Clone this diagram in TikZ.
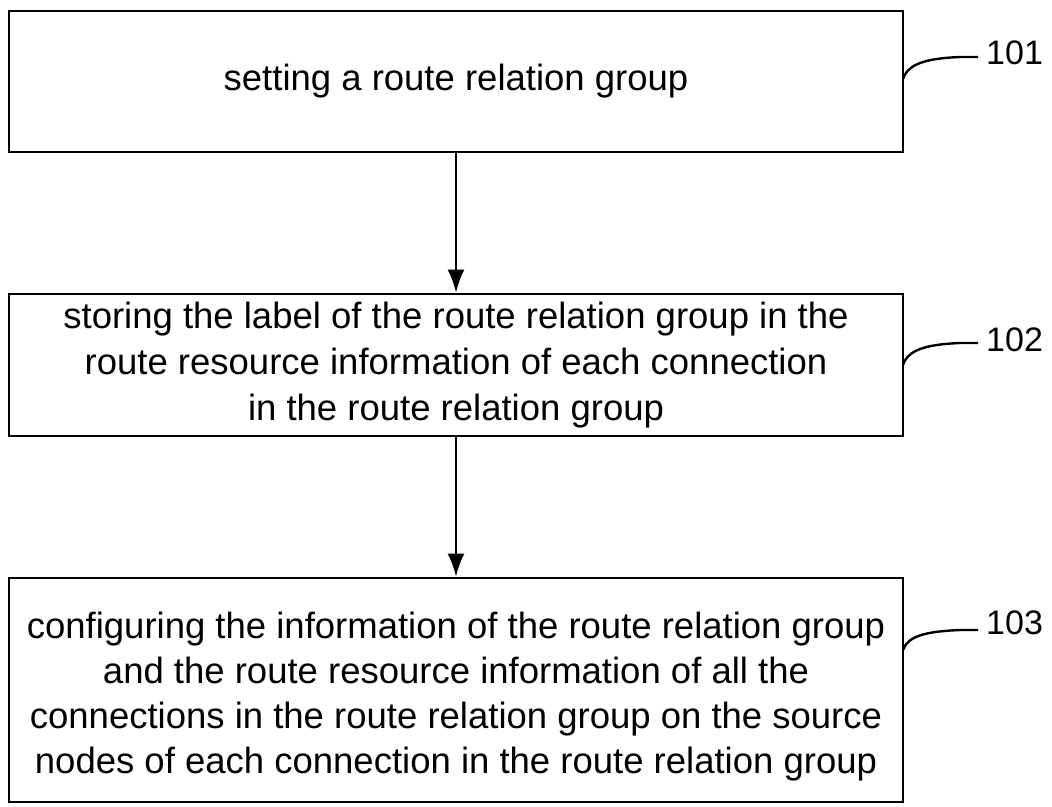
\documentclass[tikz,border=0pt]{standalone}
\usepackage{fontspec}
\setmainfont{Liberation Sans}
\usetikzlibrary{arrows.meta}
\begin{document}
\begin{tikzpicture}[x=1pt,y=-1pt,
  stepbox/.style={draw=black, line width=2.8pt, minimum width=894pt, align=center, inner sep=0pt,
    font=\fontsize{36.5}{46}\selectfont},
  steptext/.style={align=center, inner sep=0pt, font=\fontsize{36.5}{45}\selectfont},
  flow/.style={line width=2.2pt, -{Latex[length=23pt,width=17pt]}},
  leader/.style={line width=2.4pt},
  reflabel/.style={anchor=west, inner sep=0pt, font=\fontsize{34}{40}\selectfont}]
\useasboundingbox (0,0) rectangle (1052,806);
\node[stepbox, minimum height=141pt] (b1) at (456,81.5) {setting a route relation group};
\node[stepbox, minimum height=142pt] (b2) at (456,365) {storing the label of the route relation group in the\\route resource information of each connection\\in the route relation group};
\node[stepbox, minimum height=224pt] (b3) at (456,690) {};
\node[steptext] (t3) at (456,697) {configuring the information of the route relation group\\and the route resource information of all the\\connections in the route relation group on the source\\nodes of each connection in the route relation group};
\draw[flow] (b1.south) -- (b2.north);
\draw[flow] (b2.south) -- (b3.north);
\node[reflabel] (l1) at (986,53) {101};
\node[reflabel] (l2) at (986,340) {102};
\node[reflabel] (l3) at (986,623) {103};
\coordinate (s1) at (903,79);
\coordinate (s2) at (903,365);
\coordinate (s3) at (903,650);
\coordinate (e1) at ([xshift=-8pt]l1.west |- 0,57);
\coordinate (e2) at ([xshift=-8pt]l2.west |- 0,343);
\coordinate (e3) at ([xshift=-8pt]l3.west |- 0,630);
\draw[leader] (s1) .. controls (908,64) and (925,58.5) .. (960,57) -- (e1);
\draw[leader] (s2) .. controls (908,350) and (925,344.5) .. (960,343) -- (e2);
\draw[leader] (s3) .. controls (908,636) and (925,631.5) .. (960,630) -- (e3);
\end{tikzpicture}
\end{document}
